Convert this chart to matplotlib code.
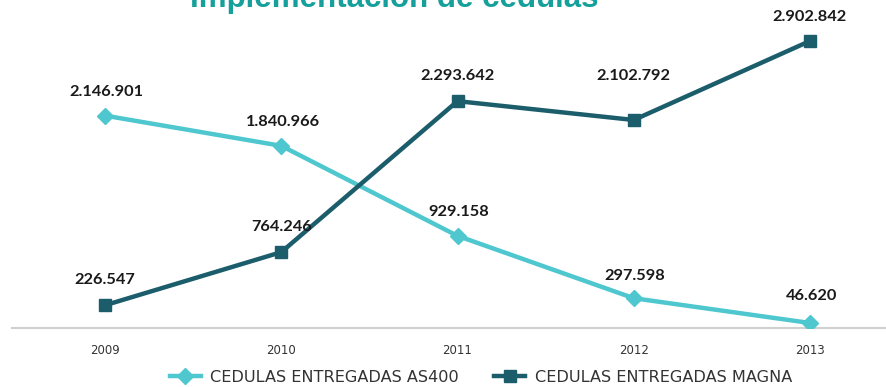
import matplotlib
matplotlib.use("Agg")
import matplotlib.pyplot as plt
from matplotlib.lines import Line2D

# datos de cedulas entregadas por año
years = ["2009", "2010", "2011", "2012", "2013"]
as400 = [2146901, 1840966, 929158, 297598, 46620]
magna = [226547, 764246, 2293642, 2102792, 2902842]

# desplazamiento vertical de cada etiqueta (en pixeles)
as400_off = [24, 24, 24, 22, 27]
magna_off = [25, 25, 25, 44, 24]

c_as400 = "#4ec7cf"
c_magna = "#1b5d6b"
c_title = "#16a09b"


def fmt(v):
    return f"{v:,}".replace(",", ".")


W, H = 887, 387
fig = plt.figure(figsize=(W / 100, H / 100), dpi=100)
fig.patch.set_facecolor("white")

# ejes en pixeles: borde izquierdo 12, derecho 887, base 327.6, tope 31.4
ax = fig.add_axes([12 / W, (H - 327.6) / H, 875 / W, (327.6 - 31.4) / H])
x = list(range(len(years)))

ax.plot(x, as400, color=c_as400, lw=3.2, marker="D", ms=8.5, zorder=3)
ax.plot(x, magna, color=c_magna, lw=3.2, marker="s", ms=9, zorder=3)

for i, v in enumerate(as400):
    ax.annotate(fmt(v), (i, v), xytext=(1, as400_off[i] * 0.72), textcoords="offset points",
                ha="center", va="center", fontsize=11.8, fontweight="bold",
                family="Lato", color="#1a1a1a")
for i, v in enumerate(magna):
    ax.annotate(fmt(v), (i, v), xytext=(0, magna_off[i] * 0.72), textcoords="offset points",
                ha="center", va="center", fontsize=11.8, fontweight="bold",
                family="Lato", color="#1a1a1a")

ax.set_xlim(-0.528, 4.437)
ax.set_ylim(0, 3000000)
ax.set_xticks(x)
ax.set_xticklabels(years, fontsize=8.5, color="#333333")
ax.tick_params(axis="x", length=0, pad=12)
ax.set_yticks([])
for s in ["top", "right", "left"]:
    ax.spines[s].set_visible(False)
ax.spines["bottom"].set_color("#d0d0d0")
ax.spines["bottom"].set_linewidth(1.5)

handles = [
    Line2D([], [], color=c_as400, lw=3.2, marker="D", ms=8.5),
    Line2D([], [], color=c_magna, lw=3.2, marker="s", ms=9),
]
fig.legend(handles, ["CEDULAS ENTREGADAS AS400", "CEDULAS ENTREGADAS MAGNA"],
           loc="center", bbox_to_anchor=(481 / W, 1 - 377 / H), ncol=2, frameon=False,
           fontsize=11.6, handlelength=1.9, handletextpad=0.6, columnspacing=2.2,
           labelcolor="#333333")

fig.text(394 / W, 1 - 7 / H, "Implementación de cédulas", ha="center", va="baseline",
         fontsize=22.5, fontweight="bold", family="Liberation Sans", color=c_title)

fig.savefig("out.png", dpi=100)
